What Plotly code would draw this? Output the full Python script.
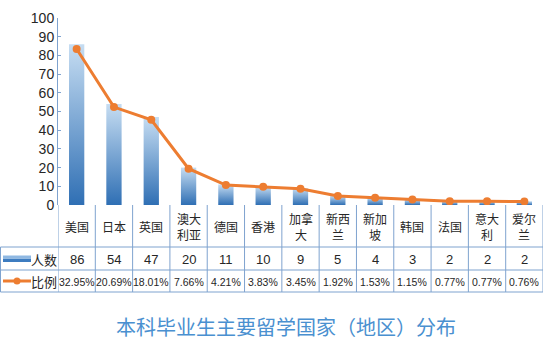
import plotly.graph_objects as go

# Data
regions = ["美国", "日本", "英国", "澳大<br>利亚", "德国", "香港", "加拿<br>大", "新西<br>兰",
           "新加<br>坡", "韩国", "法国", "意大<br>利", "爱尔<br>兰"]
counts = [86, 54, 47, 20, 11, 10, 9, 5, 4, 3, 2, 2, 2]
shares = [32.95, 20.69, 18.01, 7.66, 4.21, 3.83, 3.45, 1.92, 1.53, 1.15, 0.77, 0.77, 0.76]
y_ticks = [0, 10, 20, 30, 40, 50, 60, 70, 80, 90, 100]
title_text = "本科毕业生主要留学国家（地区）分布"

W, H = 545, 340
ML, MR, MT, MB = 58, 2, 18, 135
PH = H - MT - MB
PW = W - ML - MR

BLUE_DARK = "#2f6fb4"
BLUE_LIGHT = "#c6ddf2"
ORANGE = "#ed7d31"
GRID_BLUE = "#7fa3cf"
TEXT = "#262626"
NUM = "Liberation Sans, Arial, sans-serif"
CJK = "Noto Sans CJK SC, sans-serif"


def py(p):
    """pixel row -> paper y"""
    return (MT + PH - p) / PH


def px(p):
    """pixel column -> paper x"""
    return (p - ML) / PW


fig = go.Figure()

# gradient-filled columns, one polygon per region
bar_w = 0.41
for i, v in enumerate(counts):
    x0, x1 = i - bar_w / 2, i + bar_w / 2
    fig.add_trace(go.Scatter(
        x=[x0, x1, x1, x0, x0], y=[0, 0, v, v, 0],
        mode="lines", line=dict(width=0), fill="toself",
        fillgradient=dict(type="vertical", start=0, stop=v,
                          colorscale=[[0, BLUE_DARK], [1, BLUE_LIGHT]]),
        hoverinfo="skip", showlegend=False,
    ))

# share line on a hidden secondary axis
fig.add_trace(go.Scatter(
    x=list(range(len(shares))), y=shares, yaxis="y2",
    mode="lines+markers", line=dict(color=ORANGE, width=3),
    marker=dict(color=ORANGE, size=8), showlegend=False,
))

shapes = []
ann = []


def label(x, y, text, size, family, xref="paper", color=TEXT):
    ann.append(dict(x=x, y=y, xref=xref, yref="paper", text=text, showarrow=False,
                    xanchor="center", yanchor="middle", align="center",
                    font=dict(family=family, size=size, color=color)))


# data table grid
for r in (247, 270, 292):
    shapes.append(dict(type="line", xref="paper", yref="paper",
                       x0=px(0.5), x1=1, y0=py(r), y1=py(r),
                       line=dict(color=GRID_BLUE, width=1)))
for k in range(len(regions) + 1):
    shapes.append(dict(type="line", xref="x", yref="paper", x0=k - 0.5, x1=k - 0.5,
                       y0=py(205), y1=py(292), line=dict(color=GRID_BLUE, width=1)))
shapes.append(dict(type="line", xref="paper", yref="paper", x0=px(0.5), x1=px(0.5),
                   y0=py(247), y1=py(292), line=dict(color=GRID_BLUE, width=1)))

# table cells
for i, name in enumerate(regions):
    label(i, py(226), name, 12, CJK, xref="x")
    label(i, py(259), str(counts[i]), 13, NUM, xref="x")
    label(i, py(281.5), f"{shares[i]:.2f}%", 10.5, NUM, xref="x")

# series keys in the table
shapes.append(dict(type="rect", xref="paper", yref="paper", x0=px(3), x1=px(31),
                   y0=py(262), y1=py(258.5), fillcolor="#3d7cc0", line=dict(width=0)))
shapes.append(dict(type="rect", xref="paper", yref="paper", x0=px(3), x1=px(31),
                   y0=py(258.5), y1=py(255.5), fillcolor="#8fb8e2", line=dict(width=0)))
shapes.append(dict(type="line", xref="paper", yref="paper", x0=px(3), x1=px(31),
                   y0=py(281), y1=py(281), line=dict(color=ORANGE, width=3)))
shapes.append(dict(type="circle", xref="paper", yref="paper", x0=px(13.5), x1=px(20.5),
                   y0=py(284.5), y1=py(277.5), fillcolor=ORANGE, line=dict(width=0)))
label(px(44), py(259), "人数", 13, CJK)
label(px(44), py(281.5), "比例", 13, CJK)

# caption
label(px(286), py(326), title_text, 20, CJK, color="#4a90d0")

fig.update_layout(
    width=W, height=H,
    margin=dict(l=ML, r=MR, t=MT, b=MB),
    paper_bgcolor="white", plot_bgcolor="white",
    xaxis=dict(range=[-0.5, len(regions) - 0.5], showgrid=False, zeroline=False,
               showticklabels=False, ticks="", showline=False, fixedrange=True),
    yaxis=dict(range=[0, 100], tickvals=y_ticks, showgrid=False, zeroline=False,
               showline=True, linecolor=GRID_BLUE, linewidth=1,
               ticks="inside", ticklen=3, tickcolor=GRID_BLUE,
               tickfont=dict(family=NUM, size=14, color=TEXT), fixedrange=True),
    yaxis2=dict(range=[0, 39.5], overlaying="y", visible=False, fixedrange=True),
    shapes=shapes, annotations=ann,
)

fig.write_html("out.html")
